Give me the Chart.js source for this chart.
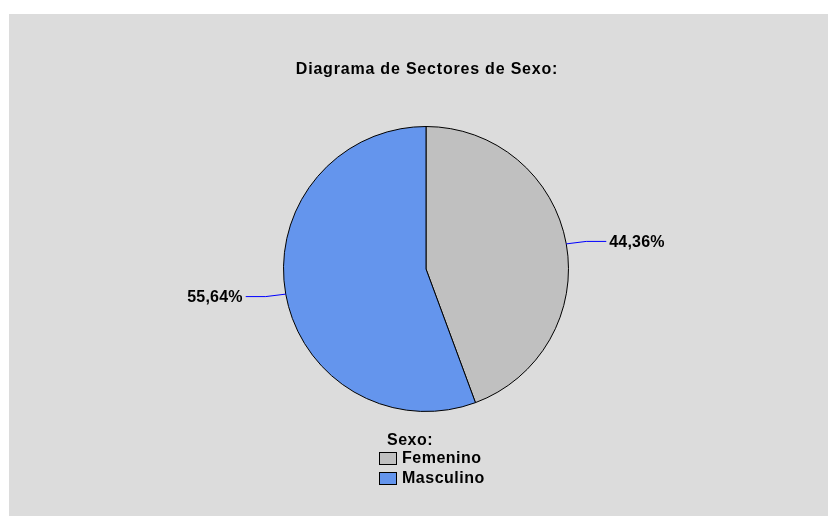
<!DOCTYPE html>
<html>
<head>
<meta charset="utf-8">
<script src="https://cdn.jsdelivr.net/npm/chart.js@4.4.1/dist/chart.umd.min.js"></script>
<style>
  html, body { margin: 0; padding: 0; background: #ffffff; }
  #wrap { position: relative; width: 828px; height: 516px; }
</style>
</head>
<body>
<div id="wrap"><canvas id="sexoChart" width="828" height="516"></canvas></div>
<script>
// Datos
const categorias = ['Femenino', 'Masculino'];
const porcentajes = [44.36, 55.64];
const etiquetas = ['44,36%', '55,64%'];
const colores = ['#C0C0C0', '#6495ED'];
const titulo = 'Diagrama de Sectores de Sexo:';
const tituloLeyenda = 'Sexo:';

// Fondo gris del panel
const fondoPanel = {
    id: 'fondoPanel',
    beforeDraw(chart) {
        const ctx = chart.ctx;
        ctx.save();
        ctx.fillStyle = '#DCDCDC';
        ctx.fillRect(9, 14, chart.width - 9, chart.height - 14);
        ctx.restore();
    }
};

// Titulo, etiquetas con lineas guia y leyenda
const adornos = {
    id: 'adornos',
    afterDraw(chart) {
        const ctx = chart.ctx;
        ctx.save();
        ctx.fillStyle = '#000';

        // titulo
        ctx.font = 'bold 16px "Liberation Sans", Arial, sans-serif';
        ctx.letterSpacing = '0.8px';
        ctx.textAlign = 'center';
        ctx.textBaseline = 'middle';
        ctx.fillText(titulo, 427, 70);

        // etiquetas de porcentaje
        const arcs = chart.getDatasetMeta(0).data;
        ctx.font = 'bold 16px "Liberation Sans", Arial, sans-serif';
        ctx.letterSpacing = '0.2px';
        arcs.forEach(function (arc, i) {
            const p = arc.getProps(['x', 'y', 'startAngle', 'endAngle', 'outerRadius'], true);
            const mid = (p.startAngle + p.endAngle) / 2;
            const dir = Math.cos(mid) >= 0 ? 1 : -1;
            const ex = p.x + Math.cos(mid) * p.outerRadius;
            const ey = p.y + Math.sin(mid) * p.outerRadius;
            const kx = ex + dir * 20;
            const ky = ey + Math.sin(mid) * 14;
            const hx = kx + dir * 20;
            ctx.strokeStyle = '#0000FF';
            ctx.lineWidth = 1;
            ctx.beginPath();
            ctx.moveTo(ex, ey);
            ctx.lineTo(kx, ky);
            ctx.lineTo(hx, ky);
            ctx.stroke();
            ctx.textAlign = dir > 0 ? 'left' : 'right';
            ctx.textBaseline = 'middle';
            ctx.fillText(etiquetas[i], hx + dir * 3, ky + 1);
        });

        // leyenda
        ctx.font = 'bold 16px "Liberation Sans", Arial, sans-serif';
        ctx.letterSpacing = '0.5px';
        ctx.textAlign = 'left';
        ctx.textBaseline = 'middle';
        ctx.fillText(tituloLeyenda, 387, 441);
        categorias.forEach(function (cat, i) {
            const y = 452 + i * 20;
            ctx.fillStyle = colores[i];
            ctx.fillRect(379.5, y + 0.5, 17, 12);
            ctx.strokeStyle = '#000';
            ctx.lineWidth = 1;
            ctx.strokeRect(379.5, y + 0.5, 17, 12);
            ctx.fillStyle = '#000';
            ctx.fillText(cat, 402, y + 7);
        });
        ctx.restore();
    }
};

const ctx = document.getElementById('sexoChart').getContext('2d');
new Chart(ctx, {
    type: 'pie',
    data: {
        labels: categorias,
        datasets: [{
            data: porcentajes,
            backgroundColor: colores,
            borderColor: '#000000',
            borderWidth: 1,
            hoverOffset: 0
        }]
    },
    options: {
        responsive: false,
        animation: false,
        events: [],
        layout: {
            padding: { top: 126, bottom: 104, left: 124, right: 100 }
        },
        plugins: {
            legend: { display: false },
            title: { display: false },
            tooltip: { enabled: false }
        }
    },
    plugins: [fondoPanel, adornos]
});
</script>
</body>
</html>
